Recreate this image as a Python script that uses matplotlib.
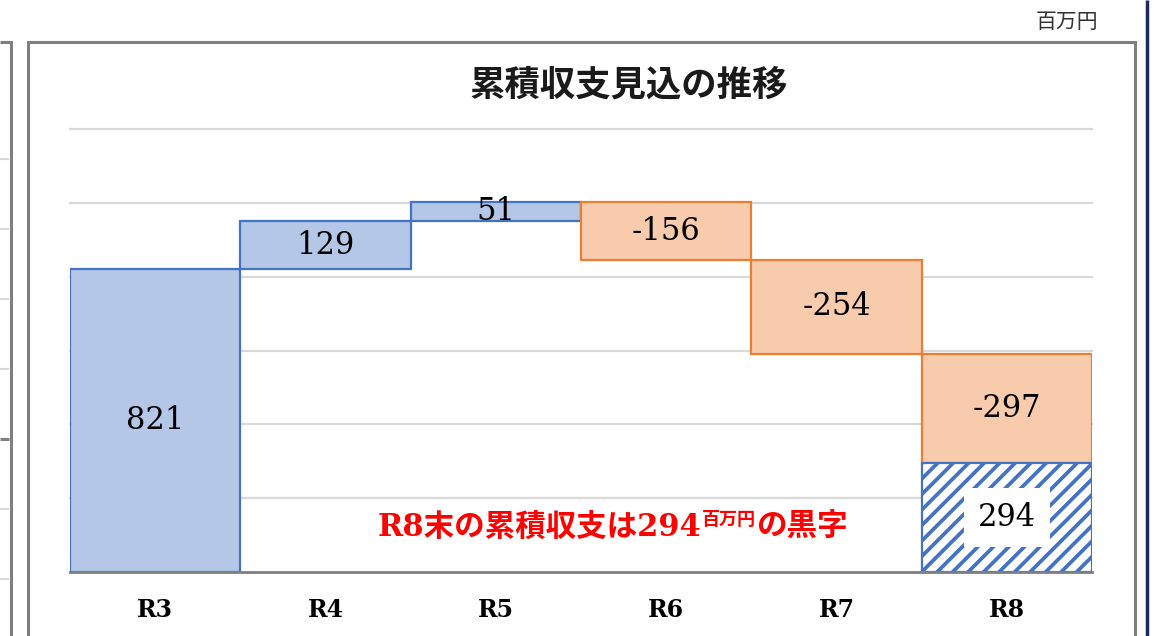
import numpy as np
import matplotlib
matplotlib.use('Agg')
import matplotlib.pyplot as plt
from matplotlib.transforms import IdentityTransform

# data
categories = ['R3', 'R4', 'R5', 'R6', 'R7', 'R8']
changes = [821, 129, 51, -156, -254, -297]
final_label = 'R8'
title = '累積収支見込の推移'
unit = '百万円'
note_main = 'R8末の累積収支は294'
note_unit = '百万円'
note_tail = 'の黒字'

W, H = 1154, 636
blue_fill, blue_edge = '#B4C7E7', '#4472C4'
orange_fill, orange_edge = '#F8CBAD', '#ED7D31'
frame_gray = '#7F7F7F'
grid_gray = '#D9D9D9'
num_fam = ['DejaVu Serif', 'Noto Sans CJK JP']
jp_fam = ['Noto Sans CJK JP', 'DejaVu Sans']


def fx(px):
    return px / W


def fy(py):
    return 1 - py / H


def fig_line(fig, xs, ys, color, lw):
    fig.add_artist(plt.Line2D([fx(x) for x in xs], [fy(y) for y in ys],
                              transform=fig.transFigure, color=color, lw=lw,
                              solid_capstyle='butt', solid_joinstyle='miter'))


fig = plt.figure(figsize=(W / 100, H / 100), dpi=100)
fig.patch.set_facecolor('white')

# surrounding frames
fig_line(fig, [27.5, 27.5, 1135, 1135], [H, 42, 42, H], frame_gray, 2.2)
fig_line(fig, [0, 10.5, 10.5], [42, 42, H], frame_gray, 2.2)
for yy in [159, 229, 299, 369, 509, 579]:
    fig_line(fig, [0, 9], [yy, yy], grid_gray, 1.5)
fig_line(fig, [0, 9], [439, 439], frame_gray, 2.2)
fig_line(fig, [1147, 1147], [0, H], '#1F2A5C', 2.5)

ax = fig.add_axes([fx(70), fy(572), fx(1092) - fx(70), fy(129) - fy(572)])
ax.set_xlim(-0.5, len(categories) - 0.5)
ax.set_ylim(0, 1200)

cum = np.cumsum(changes)
x = np.arange(len(categories))
for i, v in enumerate(changes):
    start = 0 if i == 0 else cum[i - 1]
    bottom = min(start, cum[i])
    height = abs(v)
    if v >= 0:
        fc, ec = blue_fill, blue_edge
    else:
        fc, ec = orange_fill, orange_edge
    ax.bar(x[i], height, bottom=bottom, width=1.0, facecolor=fc,
           edgecolor=ec, linewidth=1.6, zorder=3)
    ax.text(x[i], bottom + height / 2, str(v), ha='center', va='center',
            fontsize=22, family=num_fam, color='black', zorder=5)

# final cumulative balance (striped)
fi = categories.index(final_label)
final_bar = ax.bar(x[fi], cum[-1], width=1.0, facecolor='white',
                   edgecolor=blue_edge, linewidth=1.6, zorder=3)
ax.text(x[fi], cum[-1] / 2, str(cum[-1]), ha='center', va='center',
        fontsize=22, family=num_fam, color='black', zorder=6,
        bbox=dict(boxstyle='square,pad=0.45', facecolor='white', edgecolor='none'))

# grid and axes
ax.set_yticks(np.arange(200, 1201, 200))
ax.set_yticklabels([])
ax.yaxis.grid(True, color=grid_gray, linewidth=1.6)
for gl in ax.get_ygridlines():
    gl.set_clip_on(False)
ax.set_axisbelow(True)
ax.tick_params(axis='y', length=0)
ax.set_xticks(x)
ax.set_xticklabels(categories, fontsize=17, fontweight='bold', family=num_fam)
ax.tick_params(axis='x', length=0, pad=19)
for s in ['top', 'right', 'left']:
    ax.spines[s].set_visible(False)
ax.spines['bottom'].set_color(frame_gray)
ax.spines['bottom'].set_linewidth(2.0)
ax.spines['bottom'].set_zorder(4)

# diagonal stripes on the final bar
rect = final_bar.patches[0]
fig.canvas.draw()
bb = rect.get_window_extent()
step = 15.5
for c in np.arange(bb.x0 - bb.height, bb.x1 + step, step):
    stripe = plt.Line2D([c, c + bb.height], [bb.y0, bb.y1],
                        transform=IdentityTransform(), color=blue_edge,
                        lw=2.7, zorder=3.5)
    ax.add_artist(stripe)
    stripe.set_clip_path(rect)

# note in red
t1 = ax.text(1.308, 122, note_main, ha='left', va='center', fontsize=22,
             fontweight='bold', family=num_fam, color='#FF0000', zorder=6)
t2 = ax.annotate(note_unit, xy=(1, 0.42), xycoords=t1, ha='left', va='bottom',
                 fontsize=13, fontweight='bold', family=jp_fam, color='#FF0000')
t3 = ax.annotate(note_tail, xy=(1, 0.5), xycoords=(t2, t1), ha='left',
                 va='center', fontsize=22, fontweight='bold', family=jp_fam,
                 color='#FF0000')

# titles
fig.text(fx(629), fy(85), title, ha='center', va='center', fontsize=25.5,
         fontweight='bold', family=jp_fam, color='#1a1a1a')
fig.text(fx(1067), fy(22), unit, ha='center', va='center', fontsize=15,
         family=jp_fam, color='#333333')

fig.savefig('out.png', dpi=100)
